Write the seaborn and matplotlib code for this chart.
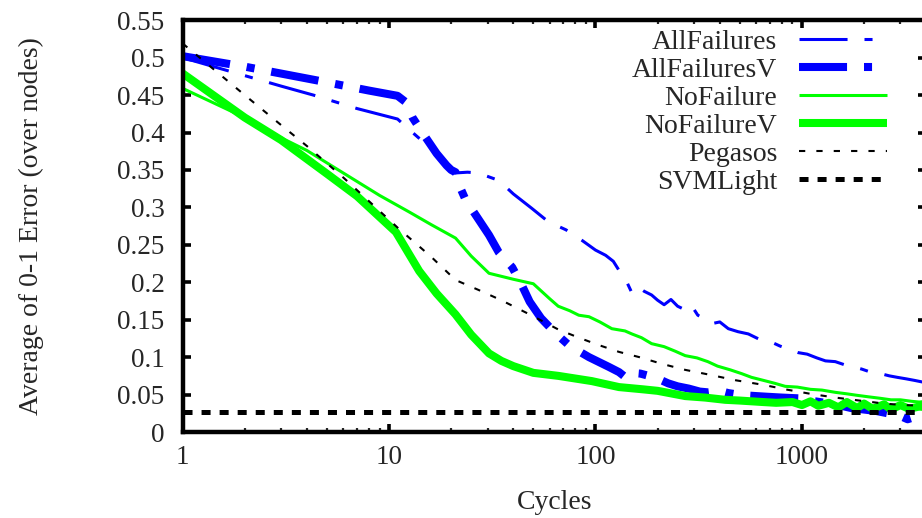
import matplotlib
matplotlib.use("Agg")
import matplotlib.pyplot as plt
import seaborn as sns

# ---- data -------------------------------------------------------------
all_fail_x = [1, 2, 3, 4.3, 7, 11, 13, 17, 21, 24, 27, 34, 40, 49, 59, 72, 86, 100,
              112, 122, 132, 142, 150, 160, 172, 187, 200, 215, 232, 250, 268, 290,
              313, 340, 370, 400, 440, 490, 550, 620, 700, 780, 870, 960, 1060, 1180,
              1300, 1450, 1600, 1780, 1950, 2150, 2400, 2650, 2900, 3200, 3500, 3800, 4000]
all_fail_y = [0.500, 0.476, 0.462, 0.450, 0.432, 0.418, 0.400, 0.372, 0.346, 0.347,
              0.346, 0.336, 0.318, 0.299, 0.281, 0.270, 0.256, 0.243, 0.236, 0.228,
              0.213, 0.200, 0.186, 0.194, 0.188, 0.183, 0.176, 0.170, 0.177, 0.168,
              0.164, 0.170, 0.156, 0.151, 0.145, 0.147, 0.138, 0.134, 0.131, 0.124,
              0.121, 0.115, 0.110, 0.106, 0.104, 0.099, 0.095, 0.094, 0.090, 0.087,
              0.084, 0.080, 0.078, 0.075, 0.073, 0.071, 0.069, 0.067, 0.066]

all_fail_v_x = [1, 2, 4.4, 8, 11, 12, 13, 14.5, 17, 19, 20, 21, 22, 23.5, 27, 30.5, 34,
                39.5, 44, 48, 54.5, 64, 75, 93, 116, 130, 140, 150, 165, 187, 205, 225,
                250, 283, 320, 350, 400, 440, 490, 530, 600, 690, 800, 960, 1100, 1290,
                1500, 1730, 2000, 2300, 2600, 2900, 3250, 3600, 4000]
all_fail_v_y = [0.502, 0.488, 0.470, 0.456, 0.449, 0.441, 0.420, 0.400, 0.372, 0.356,
                0.350, 0.347, 0.328, 0.310, 0.285, 0.263, 0.240, 0.220, 0.196, 0.174,
                0.152, 0.132, 0.115, 0.100, 0.087, 0.080, 0.073, 0.079, 0.078, 0.074,
                0.070, 0.065, 0.061, 0.058, 0.054, 0.053, 0.055, 0.052, 0.050, 0.049,
                0.048, 0.047, 0.046, 0.045, 0.042, 0.039, 0.036, 0.032, 0.030, 0.028,
                0.025, 0.023, 0.017, 0.021, 0.018]

no_fail_x = [1, 2, 3, 4, 6, 9, 12.5, 16, 21, 25, 30.5, 40, 50, 60, 66, 75, 83, 93, 105,
             120, 139, 150, 167, 187, 215, 243, 272, 310, 350, 390, 450, 510, 570, 650,
             740, 830, 950, 1100, 1250, 1450, 1650, 1850, 2100, 2400, 2700, 3000, 3400,
             3700, 4000]
no_fail_y = [0.459, 0.420, 0.393, 0.376, 0.346, 0.316, 0.294, 0.277, 0.259, 0.235,
             0.212, 0.204, 0.198, 0.178, 0.168, 0.162, 0.156, 0.154, 0.147, 0.138,
             0.135, 0.131, 0.126, 0.118, 0.114, 0.108, 0.102, 0.099, 0.094, 0.088,
             0.083, 0.078, 0.073, 0.069, 0.065, 0.061, 0.060, 0.057, 0.056, 0.053,
             0.051, 0.049, 0.047, 0.045, 0.043, 0.043, 0.041, 0.040, 0.041]

no_fail_v_x = [1, 2, 3, 5, 7, 10.8, 14, 17, 21, 25, 30.5, 35, 40, 50, 66, 96, 130, 170,
               200, 272, 340, 425, 500, 570, 650, 750, 900, 1000, 1100, 1200, 1350, 1500,
               1650, 1850, 2000, 2200, 2500, 2700, 3000, 3300, 3700, 4000]
no_fail_v_y = [0.479, 0.420, 0.390, 0.345, 0.315, 0.267, 0.215, 0.185, 0.157, 0.130,
               0.105, 0.095, 0.088, 0.079, 0.075, 0.068, 0.060, 0.057, 0.055, 0.048,
               0.046, 0.043, 0.042, 0.041, 0.040, 0.039, 0.040, 0.036, 0.041, 0.035,
               0.039, 0.033, 0.040, 0.032, 0.038, 0.031, 0.037, 0.030, 0.036, 0.031,
               0.034, 0.033]

pegasos_x = [1, 2, 3, 4, 6, 11, 16, 21, 27, 35, 48, 66, 83, 104, 130, 163, 210, 272,
             350, 480, 650, 830, 1100, 1450, 1900, 2500, 3100, 4000]
pegasos_y = [0.519, 0.450, 0.410, 0.382, 0.340, 0.273, 0.234, 0.203, 0.190, 0.176,
             0.157, 0.137, 0.126, 0.116, 0.107, 0.100, 0.091, 0.083, 0.077, 0.069,
             0.063, 0.057, 0.051, 0.046, 0.042, 0.038, 0.036, 0.035]

svm_x = [1, 4000]
svm_y = [0.027, 0.027]

series_names = ["AllFailures", "AllFailuresV", "NoFailure", "NoFailureV",
                "Pegasos", "SVMLight"]

x_ticks = [1, 10, 100, 1000]
x_tick_labels = ["1", "10", "100", "1000"]
y_ticks = [0, 0.05, 0.1, 0.15, 0.2, 0.25, 0.3, 0.35, 0.4, 0.45, 0.5, 0.55]
y_tick_labels = ["0", "0.05", "0.1", "0.15", "0.2", "0.25", "0.3", "0.35",
                 "0.4", "0.45", "0.5", "0.55"]

# ---- style ------------------------------------------------------------
sns.set_style("ticks")
plt.rcParams["font.family"] = ["Liberation Serif", "DejaVu Serif"]
plt.rcParams["lines.scale_dashes"] = False

BLUE = "#0000ff"
GREEN = "#00ff00"
dashdot = (0, (34.6, 12.2, 5.8, 12.2))
fine_dash = (0, (4.5, 8.0))
coarse_dash = (0, (6.5, 6.5))

styles = [
    dict(color=BLUE, linewidth=2.2, linestyle=dashdot),
    dict(color=BLUE, linewidth=5.8, linestyle=dashdot),
    dict(color=GREEN, linewidth=2.2, linestyle="-"),
    dict(color=GREEN, linewidth=5.8, linestyle="-"),
    dict(color="black", linewidth=1.5, linestyle=fine_dash),
    dict(color="black", linewidth=3.6, linestyle=coarse_dash),
]
series = [(all_fail_x, all_fail_y), (all_fail_v_x, all_fail_v_y),
          (no_fail_x, no_fail_y), (no_fail_v_x, no_fail_v_y),
          (pegasos_x, pegasos_y), (svm_x, svm_y)]

fig = plt.figure(figsize=(9.22, 5.18), dpi=100)
ax = fig.add_axes([0.198, 0.166, 1.0046 - 0.198, 0.961 - 0.166])

for (xs, ys), name, st in zip(series, series_names, styles):
    sns.lineplot(x=xs, y=ys, ax=ax, label=name, estimator=None, sort=False,
                 dash_capstyle="butt", solid_capstyle="butt", **st)

ax.set_xscale("log")
ax.set_xlim(1, 4000)
ax.set_ylim(0, 0.55)
ax.set_xticks(x_ticks)
ax.set_xticklabels(x_tick_labels)
ax.set_yticks(y_ticks)
ax.set_yticklabels(y_tick_labels)

for side in ["left", "right", "top", "bottom"]:
    ax.spines[side].set_visible(True)
    ax.spines[side].set_linewidth(3.2)
    ax.spines[side].set_color("black")

ax.tick_params(which="major", direction="in", length=6, width=2.6,
               top=True, right=True, labelsize=19.5, color="black")
ax.tick_params(axis="x", which="minor", direction="in", length=3, width=1.6,
               top=True, bottom=True)
ax.tick_params(axis="y", which="major", pad=13)
ax.tick_params(axis="x", which="major", pad=9)

ax.set_xlabel("Cycles", fontsize=20)
ax.set_ylabel("Average of 0-1 Error (over nodes)", fontsize=20)
ax.yaxis.set_label_coords(-0.186, 0.5)
ax.xaxis.set_label_coords(0.5, -0.14)

ax.legend(loc="upper right", bbox_to_anchor=(0.947, 0.977), markerfirst=False,
          frameon=False, handlelength=3.15, handletextpad=0.8, labelspacing=0.09,
          borderaxespad=0, borderpad=0, fontsize=20)

fig.savefig("out.png", dpi=100)
